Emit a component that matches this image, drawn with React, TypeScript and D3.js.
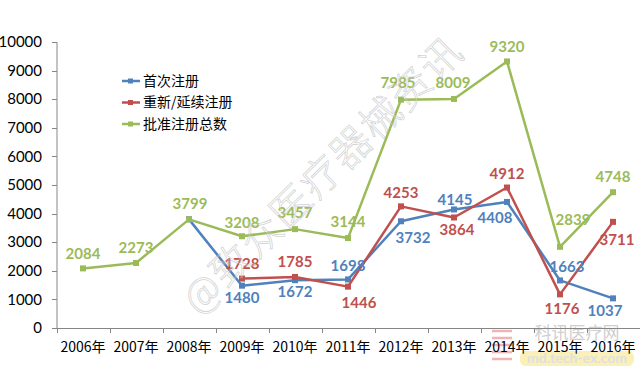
import * as d3 from 'd3';

const years = ['2006年', '2007年', '2008年', '2009年', '2010年', '2011年', '2012年', '2013年', '2014年', '2015年', '2016年'];
const yTicks = [0, 1000, 2000, 3000, 4000, 5000, 6000, 7000, 8000, 9000, 10000];

// null = no point that year
const firstReg = [null, null, 3799, 1480, 1672, 1698, 3732, 4145, 4408, 1663, 1037];
const renewReg = [null, null, null, 1728, 1785, 1446, 4253, 3864, 4912, 1176, 3711];
const totalReg = [2084, 2273, 3799, 3208, 3457, 3144, 7985, 8009, 9320, 2839, 4748];

// whether each point shows a data label
const firstShow = [false, false, false, true, true, true, true, true, true, true, true];

// label offsets from the point [dx, dy]
const firstOff = [null, null, null, [0, 12], [0, 12], [0, -14], [12, 16], [1, -10], [-12, 16], [7, -14], [-8, 12]];
const renewOff = [null, null, null, [0, -15], [0, -15], [11, 16], [0, -14], [3, 12], [0, -14], [2, 14], [4, 18]];
const totalOff = [[0, -15], [0, -15], [1, -16], [0, -14], [0, -16], [0, -16], [-3, -17], [-1, -16], [0, -15], [13, -27], [0, -15]];

const series = [
  { name: '首次注册', values: firstReg, color: '#4F81BD', off: firstOff, show: firstShow },
  { name: '重新/延续注册', values: renewReg, color: '#C0504D', off: renewOff, show: null },
  { name: '批准注册总数', values: totalReg, color: '#9BBB59', off: totalOff, show: null },
];

const W = 640;
const H = 373;
const margin = { top: 42, left: 57, right: 0, bottom: 45 };

export default function App() {
  const x = d3.scaleBand<string>().domain(years).range([margin.left - 0.5, W - 0.5]);
  const y = d3.scaleLinear().domain([0, 10000]).range([H - margin.bottom, margin.top]);
  const cx = (i: number) => (x(years[i]) as number) + x.bandwidth() / 2;
  const numFont = 'Lato, "Open Sans", sans-serif';
  const cjkFont = '"Noto Sans CJK SC", sans-serif';

  const line = d3
    .line<number | null>()
    .defined((d) => d != null)
    .x((_, i) => cx(i))
    .y((d) => y(d as number));

  const y0 = y(0);

  return (
    <svg width={W} height={H} style={{ position: 'absolute', left: 0, top: 0, background: '#fff' }}>
      {/* watermark logo bottom-right */}
      <g>
        <rect x={520} y={351} width={114} height={15} rx={6} fill="#faf0b8" />
        <text x={577} y={363} textAnchor="middle" fontFamily={numFont} fontSize={14} fontWeight="bold" fill="#e0e0e0">
          md.tech-ex.com
        </text>
        <text x={577} y={339} textAnchor="middle" fontFamily={cjkFont} fontSize={17} fill="#cfcfcf">
          科讯医疗网
        </text>
        {[0, 1, 2, 3, 4].map((k) => (
          <line key={k} x1={492} x2={512} y1={331 + k * 7} y2={331 + k * 7} stroke="#f0b4b4" strokeWidth={2.5} />
        ))}
      </g>

      {/* y axis */}
      <line x1={margin.left} x2={margin.left} y1={margin.top} y2={y0} stroke="#868686" />
      {yTicks.map((t) => (
        <g key={t}>
          <line x1={margin.left - 5} x2={margin.left} y1={Math.round(y(t)) + 0.5} y2={Math.round(y(t)) + 0.5} stroke="#868686" />
          <text x={42} y={y(t)} dy="0.35em" textAnchor="end" fontFamily={numFont} fontSize={15} fill="#000">
            {t}
          </text>
        </g>
      ))}

      {/* x axis */}
      <line x1={margin.left} x2={W} y1={Math.round(y0) + 0.5} y2={Math.round(y0) + 0.5} stroke="#868686" />
      {years.map((yr, i) => (
        <g key={yr}>
          <line
            x1={Math.round(x(yr) as number) + 0.5}
            x2={Math.round(x(yr) as number) + 0.5}
            y1={y0}
            y2={y0 + 5}
            stroke="#868686"
          />
          <text x={cx(i)} y={352} textAnchor="middle" fontFamily={cjkFont} fontSize={14} fill="#000">
            {yr}
          </text>
        </g>
      ))}

      {/* series */}
      {series.map((s) => (
        <g key={s.name}>
          <path d={line(s.values) || ''} fill="none" stroke={s.color} strokeWidth={2.5} strokeLinejoin="round" />
          {s.values.map((v, i) =>
            v == null ? null : <rect key={i} x={cx(i) - 3} y={y(v) - 3} width={6} height={6} fill={s.color} />
          )}
        </g>
      ))}
      {series.map((s) =>
        s.values.map((v, i) => {
          const o = s.off[i];
          if (v == null || !o || (s.show && !s.show[i])) return null;
          return (
            <text
              key={s.name + i}
              x={cx(i) + o[0]}
              y={y(v) + o[1]}
              dy="0.35em"
              textAnchor="middle"
              fontFamily={numFont}
              fontSize={15}
              fontWeight="bold"
              fill={s.color}
            >
              {v}
            </text>
          );
        })
      )}

      {/* legend */}
      {series.map((s, i) => {
        const ly = 81 + i * 21.5;
        return (
          <g key={s.name}>
            <line x1={122} x2={140} y1={ly} y2={ly} stroke={s.color} strokeWidth={2.5} />
            <rect x={128} y={ly - 2.5} width={5} height={5} fill={s.color} />
            <text x={143} y={ly} dy="0.35em" fontFamily={cjkFont} fontSize={14} fill="#000">
              {s.name}
            </text>
          </g>
        );
      })}

      {/* diagonal watermark */}
      <text
        transform="translate(323,175) rotate(-44.5)"
        textAnchor="middle"
        dy="0.35em"
        fontFamily={cjkFont}
        fontSize={40}
        fontWeight={300}
        fill="#ffffff"
        fillOpacity={0.25}
        stroke="#a8a8a8"
        strokeOpacity={0.5}
        strokeWidth={0.8}
        letterSpacing={2}
      >
        @致众医疗器械资讯
      </text>
    </svg>
  );
}
